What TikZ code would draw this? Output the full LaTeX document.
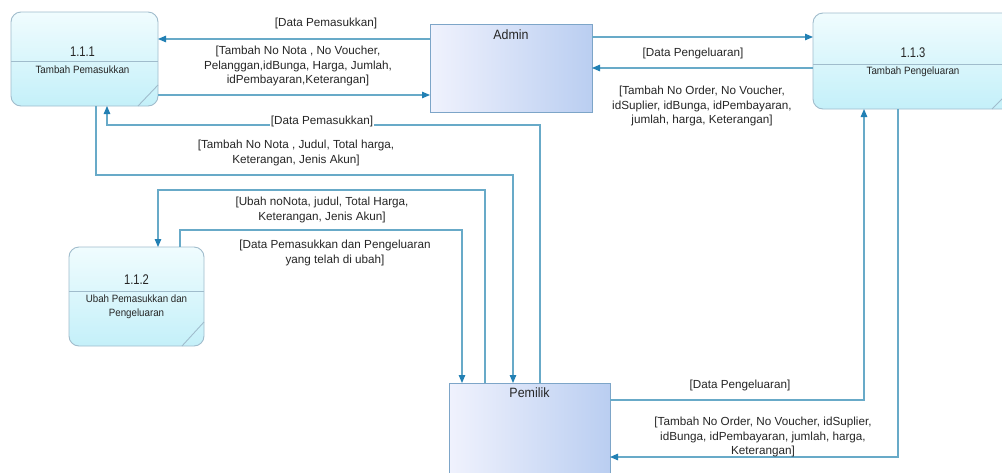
\documentclass[tikz,border=0pt]{standalone}
\usepackage{fontspec}
\setmainfont{Liberation Sans}
\newfontfamily\titlefont[FakeStretch=0.8]{Liberation Sans}
\newfontfamily\subfont[FakeStretch=0.92]{Liberation Sans}
\newfontfamily\entfont[FakeStretch=0.92]{Liberation Sans}
\usetikzlibrary{arrows.meta,calc}

\definecolor{linec}{RGB}{104,170,200}
\definecolor{tipc}{RGB}{34,128,180}
\definecolor{procedge}{RGB}{160,188,204}
\definecolor{proctop}{RGB}{240,252,254}
\definecolor{procbot}{RGB}{196,240,249}
\definecolor{entedge}{RGB}{125,165,200}
\definecolor{entleft}{RGB}{240,242,253}
\definecolor{entright}{RGB}{186,206,241}
\definecolor{txt}{RGB}{38,38,38}

\tikzset{
  proc/.style={draw=procedge, line width=0.9pt, rounded corners=10pt,
    top color=proctop, bottom color=procbot, inner sep=0pt, outer sep=0pt},
  entity/.style={draw=entedge, line width=0.9pt, left color=entleft,
    right color=entright, inner sep=0pt, outer sep=0pt},
  divider/.style={draw=procedge, line width=0.9pt},
  titletxt/.style={text=txt, inner sep=0pt, font=\titlefont\fontsize{14}{16}\selectfont},
  subtxt/.style={text=txt, inner sep=0pt, align=center, font=\subfont\fontsize{10.6}{14}\selectfont},
  enttxt/.style={text=txt, inner sep=0pt, font=\entfont\fontsize{13.5}{15}\selectfont},
  lbl/.style={text=txt, inner sep=0pt, align=center, font=\fontsize{11.7}{14.6}\selectfont},
  flow/.style={draw=linec, line width=1.1pt,
    -{Triangle[length=8pt,width=6.5pt,color=tipc]}},
}

\begin{document}
\begin{tikzpicture}[x=1pt,y=-1pt]
\path[use as bounding box, clip] (0,0) rectangle (1002,472);
\fill[white] (0,0) rectangle (1002,472);

% processes
\node[proc, minimum width=147pt, minimum height=94pt] (p111) at (84.5,59) {};
\node[proc, minimum width=200pt, minimum height=96pt] (p113) at (913,61) {};
\node[proc, minimum width=135pt, minimum height=99pt] (p112) at (136.5,296.5) {};

\draw[divider] ($(p111.west)+(0,2)$) -- ($(p111.east)+(0,2)$);
\draw[divider] ($(p111.south east)+(0,-21)$) -- ($(p111.south east)+(-20,0)$);
\draw[divider] ($(p113.west)+(0,3)$) -- ($(p113.east)+(0,3)$);
\draw[divider] ($(p113.south east)+(0,-21)$) -- ($(p113.south east)+(-21,0)$);
\draw[divider] ($(p112.west)+(0,-5.5)$) -- ($(p112.east)+(0,-5.5)$);
\draw[divider] ($(p112.south east)+(0,-24)$) -- ($(p112.south east)+(-22,0)$);

\node[titletxt] (p111t) at ($(p111.center)+(-2,-7.5)$) {1.1.1};
\node[subtxt]   (p111s) at ($(p111.center)+(-2,11)$) {Tambah Pemasukkan};
\node[titletxt] (p113t) at ($(p113.center)+(0,-8.5)$) {1.1.3};
\node[subtxt]   (p113s) at ($(p113.center)+(0,11)$) {Tambah Pengeluaran};
\node[titletxt] (p112t) at ($(p112.center)+(0,-17)$) {1.1.2};
\node[subtxt]   (p112s) at ($(p112.center)+(0,10.5)$) {Ubah Pemasukkan dan\\Pengeluaran};

% external entities
\node[entity, minimum width=162pt, minimum height=88pt] (admin) at (511,68) {};
\node[entity, minimum width=161pt, minimum height=117pt] (pemilik) at (529.5,441.5) {};
\node[enttxt] (admint) at ($(admin.north)+(0,11)$) {Admin};
\node[enttxt] (pemilikt) at ($(pemilik.north)+(0,10)$) {Pemilik};

% flows between Admin and the processes
\coordinate (c1) at ($(admin.west)+(0,-29)$);
\draw[flow] (c1) -- (c1 -| p111.east);
\coordinate (c2) at ($(p111.east)+(0,36)$);
\draw[flow] (c2) -- (c2 -| admin.west);
\coordinate (c3) at ($(admin.east)+(0,-31)$);
\draw[flow] (c3) -- (c3 -| p113.west);
\coordinate (c4) at ($(p113.west)+(0,7)$);
\draw[flow] (c4) -- (c4 -| admin.east);

% flows between Pemilik and the processes
\coordinate (c5) at ($(pemilik.north west)+(91,0)$);
\coordinate (c5b) at ($(p111.south west)+(96,0)$);
\draw[flow] (c5) -- ++(0,-258) -| (c5b);
\coordinate (c6) at ($(p111.south west)+(85,0)$);
\coordinate (c6b) at ($(pemilik.north west)+(64,0)$);
\draw[flow] (c6) -- ++(0,69) -| (c6b);
\coordinate (c7) at ($(pemilik.north west)+(36,0)$);
\coordinate (c7b) at ($(p112.north west)+(89,0)$);
\draw[flow] (c7) -- ++(0,-193) -| (c7b);
\coordinate (c8) at ($(p112.north west)+(111,0)$);
\coordinate (c8b) at ($(pemilik.north west)+(13,0)$);
\draw[flow] (c8) -- ++(0,-17) -| (c8b);
\coordinate (c9) at ($(pemilik.north east)+(0,17)$);
\coordinate (c9b) at ($(p113.south west)+(51,0)$);
\draw[flow] (c9) -| (c9b);
\coordinate (c10) at ($(p113.south west)+(85,0)$);
\coordinate (c10b) at ($(pemilik.north east)+(0,74)$);
\draw[flow] (c10) |- (c10b);

% flow labels
\node[lbl] (l1) at (326,23) {[Data Pemasukkan]};
\node[lbl] (l2) at (298,66) {[Tambah No Nota , No Voucher,\\Pelanggan,idBunga, Harga, Jumlah,\\idPembayaran,Keterangan]};
\node[lbl] (l3) at (693,53) {[Data Pengeluaran]};
\node[lbl] (l4) at (702,106) {[Tambah No Order, No Voucher,\\idSuplier, idBunga, idPembayaran,\\jumlah, harga, Keterangan]};
\node[lbl, fill=white, inner xsep=1pt] (l5) at (322,121) {[Data Pemasukkan]};
\node[lbl] (l6) at (296,153) {[Tambah No Nota , Judul, Total harga,\\Keterangan, Jenis Akun]};
\node[lbl] (l7) at (322,210) {[Ubah noNota, judul, Total Harga,\\Keterangan, Jenis Akun]};
\node[lbl] (l8) at (335,253) {[Data Pemasukkan dan Pengeluaran\\yang telah di ubah]};
\node[lbl] (l9) at (740,385) {[Data Pengeluaran]};
\node[lbl] (l10) at (763,437) {[Tambah No Order, No Voucher, idSuplier,\\idBunga, idPembayaran, jumlah, harga,\\Keterangan]};
\end{tikzpicture}
\end{document}
